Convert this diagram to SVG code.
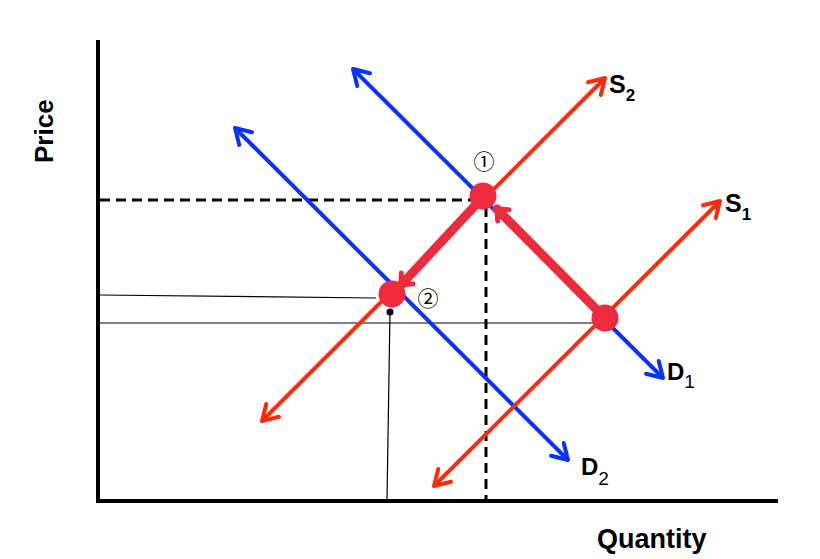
<svg xmlns="http://www.w3.org/2000/svg" width="820" height="559" viewBox="0 0 820 559">
<style>
.axis{stroke:#000;stroke-width:4;fill:none}
.dash{stroke:#000;stroke-width:3;stroke-dasharray:10 6;fill:none}
.thin{stroke:#000;stroke-width:1.2;fill:none}
.sup{stroke:#FF2A0A;stroke-width:4;fill:none}
.dem{stroke:#0A32FF;stroke-width:4;fill:none}
.path{stroke:#EE2A3C;stroke-width:9;fill:none;stroke-linecap:round}
.pt{fill:#EE2A3C}
.lbl{font-family:"Liberation Sans",Arial,sans-serif;font-weight:bold;fill:#000}
.sub{font-family:"Liberation Sans",Arial,sans-serif;font-weight:normal;fill:#000}
.num{font-family:"Noto Sans CJK KR","DejaVu Sans",sans-serif;font-size:21px;fill:#000}
</style>
<defs>
<marker id="ar" markerUnits="userSpaceOnUse" markerWidth="30" markerHeight="30" refX="0" refY="0" viewBox="-20 -15 25 30" orient="auto-start-reverse">
<path d="M-15,-9 L0,0 L-15,9" fill="none" stroke="#FF2A0A" stroke-width="4" stroke-linecap="round" stroke-linejoin="round"/>
</marker>
<marker id="ab" markerUnits="userSpaceOnUse" markerWidth="30" markerHeight="30" refX="0" refY="0" viewBox="-20 -15 25 30" orient="auto-start-reverse">
<path d="M-15,-9 L0,0 L-15,9" fill="none" stroke="#0A32FF" stroke-width="4" stroke-linecap="round" stroke-linejoin="round"/>
</marker>
<marker id="ap" markerUnits="userSpaceOnUse" markerWidth="30" markerHeight="30" refX="0" refY="0" viewBox="-20 -15 25 30" orient="auto">
<path d="M-9,-8 L0,0 L-9,8" fill="none" stroke="#EE2A3C" stroke-width="5" stroke-linecap="round" stroke-linejoin="round"/>
</marker>
</defs>
<rect width="820" height="559" fill="#fff"/>

<g id="axes">
<line class="axis" x1="98" y1="40" x2="98" y2="503"/>
<line class="axis" x1="96" y1="501" x2="778" y2="501"/>
<text class="lbl" font-size="26" transform="translate(53,163) rotate(-90)">Price</text>
<text class="lbl" font-size="27" x="597" y="548">Quantity</text>
</g>

<g id="connectors">
<line class="dash" x1="100" y1="200" x2="474" y2="200"/>
<line class="dash" x1="486" y1="207" x2="486" y2="500"/>
<polyline class="thin" points="99,295 376,298"/>
<line class="thin" x1="99" y1="323" x2="600" y2="323"/>
<line class="thin" x1="390" y1="312" x2="387" y2="500"/>
<line class="dem" x1="353" y1="69" x2="663" y2="378" marker-start="url(#ab)" marker-end="url(#ab)"/>
<line class="dem" x1="235" y1="128" x2="568" y2="460" marker-start="url(#ab)" marker-end="url(#ab)"/>
<line class="sup" x1="262" y1="421" x2="605" y2="78" marker-start="url(#ar)" marker-end="url(#ar)"/>
<line class="sup" x1="434" y1="486" x2="720" y2="201" marker-start="url(#ar)" marker-end="url(#ar)"/>
<line class="path" x1="605" y1="318" x2="497" y2="209" marker-end="url(#ap)"/>
<line class="path" x1="483" y1="197" x2="401" y2="285" marker-end="url(#ap)"/>
</g>

<g id="point1">
<circle class="pt" cx="483" cy="196" r="13.5"/>
<text class="num" x="484" y="169" text-anchor="middle">①</text>
</g>
<g id="point2">
<circle class="pt" cx="392" cy="294" r="13.5"/>
<circle cx="390" cy="312" r="3.5" fill="#000"/>
<text class="num" x="428" y="306" text-anchor="middle">②</text>
</g>
<g id="point3">
<circle class="pt" cx="605" cy="318" r="13.5"/>
</g>

<g id="S2"><text class="lbl" font-size="25" x="609" y="93">S<tspan font-size="17" dy="8">2</tspan></text></g>
<g id="S1"><text class="lbl" font-size="25" x="725" y="212">S<tspan font-size="17" dy="8">1</tspan></text></g>
<g id="D1"><text class="lbl" font-size="24" x="667" y="380">D<tspan class="sub" font-size="19" dy="8">1</tspan></text></g>
<g id="D2"><text class="lbl" font-size="24" x="581" y="475">D<tspan class="sub" font-size="19" dy="10">2</tspan></text></g>
</svg>
